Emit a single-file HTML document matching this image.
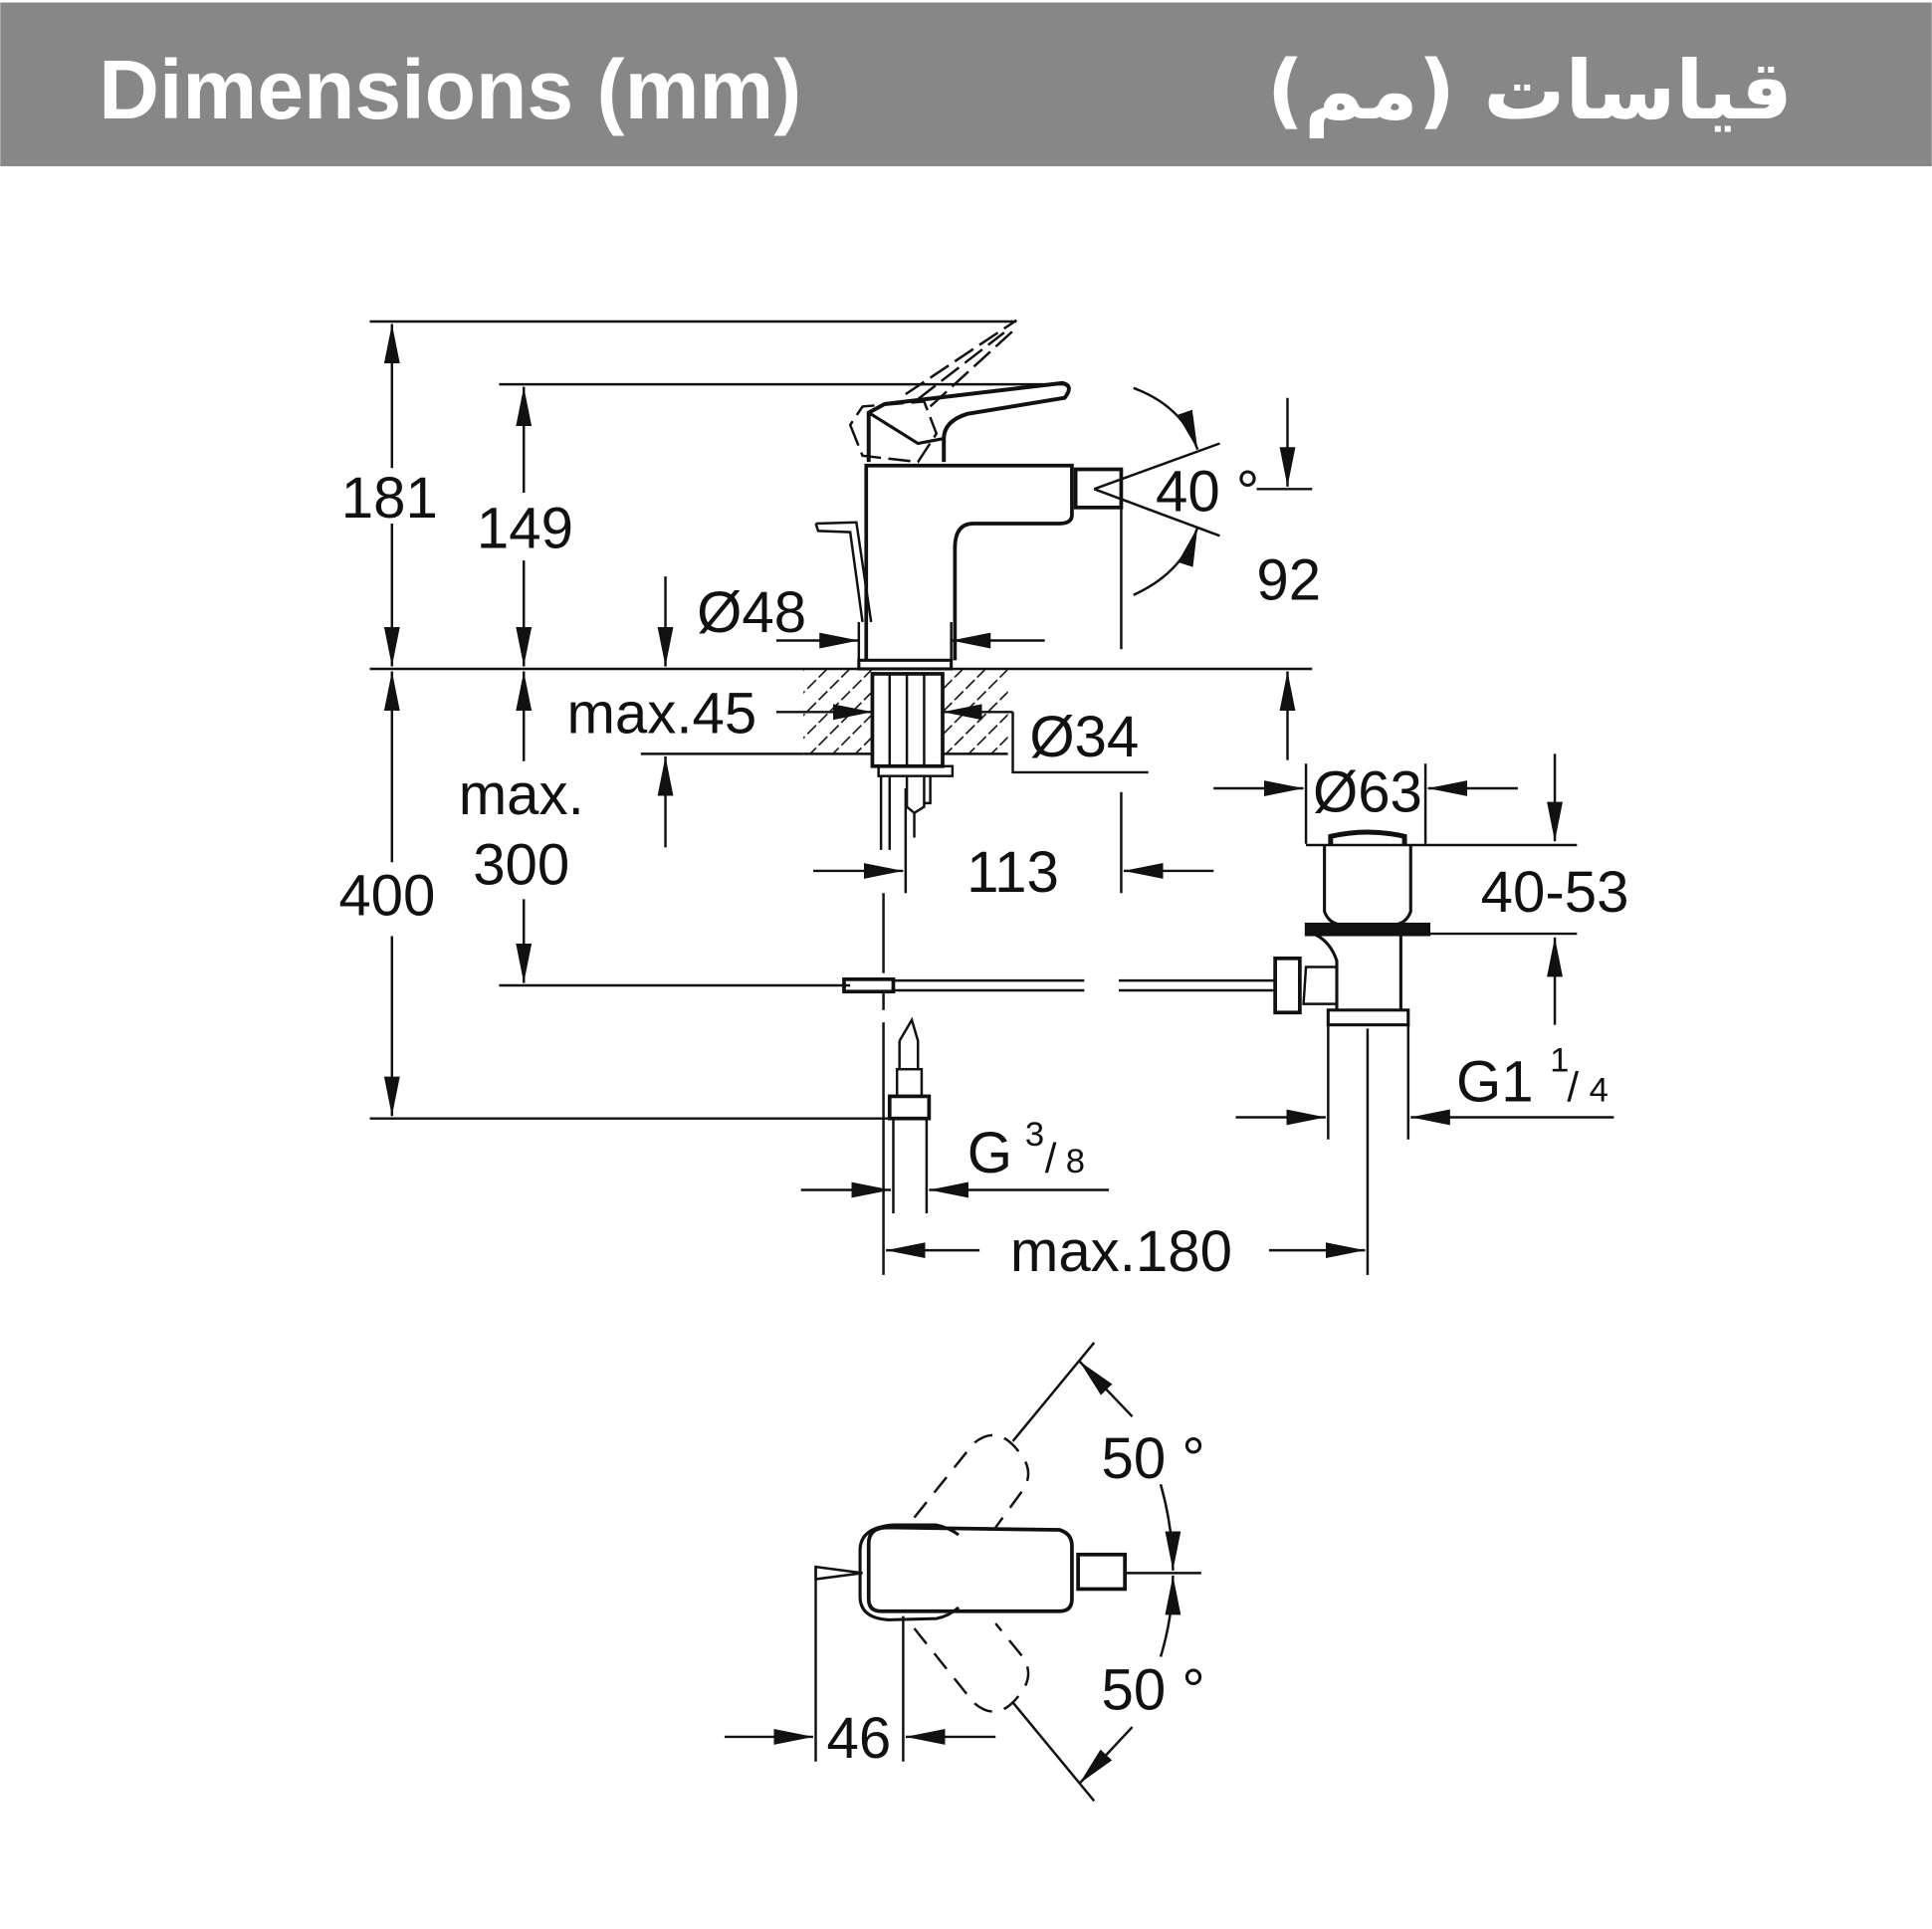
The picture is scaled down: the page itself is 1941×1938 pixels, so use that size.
<!DOCTYPE html>
<html><head><meta charset="utf-8"><style>
html,body{margin:0;padding:0;background:#fff;}
svg{display:block;}
text{font-family:"Liberation Sans",sans-serif;fill:#111;}
</style></head><body>
<svg width="1941" height="1938" viewBox="0 0 1568 1566" xmlns="http://www.w3.org/2000/svg">
<defs>
<marker id="b" viewBox="0 0 10 10" refX="10" refY="5" markerWidth="32" markerHeight="32" markerUnits="userSpaceOnUse" orient="auto"><path d="M0,3 L10,5 L0,7 z" fill="#111"/></marker>
<pattern id="h" width="13" height="13" patternUnits="userSpaceOnUse" patternTransform="rotate(45)"><line x1="0" y1="0" x2="0" y2="13" stroke="#111" stroke-width="2.6" stroke-dasharray="10 3"/></pattern>
</defs>
<rect x="0" y="2" width="1568" height="133" fill="#878787"/>
<text x="80" y="96" font-size="68" font-weight="bold" style="fill:#fff">Dimensions (mm)</text>
<text x="1455" y="96" font-size="66" font-weight="bold" text-anchor="end" style="fill:#fff;font-family:'DejaVu Sans',sans-serif">قياسات (مم)</text>

<g stroke="#111" stroke-width="2" fill="none">
<line x1="300" y1="261" x2="825" y2="261"/>
<line x1="405" y1="312" x2="865" y2="312"/>
<line x1="300" y1="543" x2="1065" y2="543"/>
<line x1="300" y1="908" x2="725" y2="908"/>
<line x1="405" y1="800" x2="690" y2="800"/>
<line x1="318" y1="380" x2="318" y2="263" marker-end="url(#b)"/>
<line x1="318" y1="425" x2="318" y2="541" marker-end="url(#b)"/>
<line x1="425" y1="400" x2="425" y2="314" marker-end="url(#b)"/>
<line x1="425" y1="455" x2="425" y2="541" marker-end="url(#b)"/>
<line x1="318" y1="700" x2="318" y2="545" marker-end="url(#b)"/>
<line x1="318" y1="760" x2="318" y2="906" marker-end="url(#b)"/>
<line x1="425" y1="618" x2="425" y2="545" marker-end="url(#b)"/>
<line x1="425" y1="730" x2="425" y2="798" marker-end="url(#b)"/>
<line x1="540" y1="468" x2="540" y2="541" marker-end="url(#b)"/>
<line x1="630" y1="520" x2="697" y2="520" marker-end="url(#b)"/>
<line x1="848" y1="520" x2="772" y2="520" marker-end="url(#b)"/>
<line x1="697" y1="505" x2="697" y2="537"/><line x1="772" y1="505" x2="772" y2="537"/>
<line x1="630" y1="578" x2="708" y2="578" marker-end="url(#b)"/>
<line x1="540" y1="688" x2="540" y2="614" marker-end="url(#b)"/>
<line x1="520" y1="612" x2="652" y2="612"/>
<line x1="822" y1="578" x2="765" y2="578" marker-end="url(#b)"/>
<polyline points="822,578 822,627 932,627"/>
<rect x="652" y="543" width="56" height="69" fill="url(#h)" stroke="none"/>
<rect x="765" y="543" width="53" height="69" fill="url(#h)" stroke="none"/>
<line x1="652" y1="612" x2="818" y2="612"/>
<rect x="708" y="547" width="57" height="75" fill="#fff" stroke-width="3"/>
<line x1="722" y1="547" x2="722" y2="622"/><line x1="736" y1="547" x2="736" y2="622"/><line x1="750" y1="547" x2="750" y2="622"/>
<rect x="713" y="622" width="60" height="8"/>
<line x1="715" y1="630" x2="715" y2="690"/><line x1="722" y1="630" x2="722" y2="690"/>
<path d="M736,630 L736,655 L742,660 L750,655 L750,630 M742,660 L742,680 M755,630 L755,652 L750,652"/>
<rect x="697" y="536" width="75" height="7" stroke-width="2.5"/>
<path d="M703,536 L703,378 L870,378 L870,418 Q870,425 860,425 L790,425 Q775,425 775,445 L775,536" stroke-width="3"/>
<rect x="873" y="381" width="37" height="31" stroke-width="3"/>
<path d="M705,375 L705,335 L718,328 L862,311 Q872,313 864,323 L785,336 Q766,342 766,356 L766,375" stroke-width="3.2"/>
<path d="M705,335 L745,360 L766,356" stroke-width="2.5"/>
<path d="M690,345 L700,370 L745,375 L760,352 L750,326 L700,330 Z M745,324 L815,270 M755,330 L825,266 M735,320 L825,260" stroke-dasharray="18 6"/>
<path d="M662,425 L664,431 L690,432 L700,505 M662,425 L695,424 L707,505"/>
<line x1="888" y1="397" x2="990" y2="360"/>
<line x1="888" y1="397" x2="990" y2="435"/>
<path d="M920,315 Q960,330 972,365" marker-end="url(#b)"/>
<path d="M920,483 Q960,465 972,428" marker-end="url(#b)"/>
<line x1="910" y1="412" x2="910" y2="527"/>
<line x1="1045" y1="323" x2="1045" y2="395" marker-end="url(#b)"/>
<line x1="1020" y1="397" x2="1065" y2="397"/>
<line x1="1045" y1="617" x2="1045" y2="545" marker-end="url(#b)"/>
<line x1="910" y1="643" x2="910" y2="725"/>
<line x1="985" y1="707" x2="912" y2="707" marker-end="url(#b)"/>
<line x1="660" y1="707" x2="733" y2="707" marker-end="url(#b)"/>
<line x1="735" y1="640" x2="735" y2="725"/>
<line x1="717" y1="725" x2="717" y2="790"/>
<rect x="685" y="795" width="40" height="10" stroke-width="3"/>
<line x1="717" y1="805" x2="717" y2="820"/>
<line x1="725" y1="796" x2="880" y2="796"/><line x1="725" y1="804" x2="880" y2="804"/>
<line x1="908" y1="796" x2="1035" y2="796"/><line x1="908" y1="804" x2="1035" y2="804"/>
<path d="M730,845 L740,828 L745,845 L745,868 M730,845 L730,868"/>
<rect x="728" y="868" width="20" height="22"/>
<rect x="722" y="890" width="32" height="18" stroke-width="3"/>
<line x1="725" y1="908" x2="725" y2="985"/><line x1="752" y1="908" x2="752" y2="985"/>
<line x1="717" y1="830" x2="717" y2="1035"/>
<line x1="650" y1="966" x2="723" y2="966" marker-end="url(#b)"/>
<line x1="900" y1="966" x2="754" y2="966" marker-end="url(#b)"/>
<line x1="1110" y1="835" x2="1110" y2="1035"/>
<line x1="795" y1="1015" x2="719" y2="1015" marker-end="url(#b)"/>
<line x1="1030" y1="1015" x2="1108" y2="1015" marker-end="url(#b)"/>
<line x1="1060" y1="620" x2="1060" y2="685"/><line x1="1157" y1="620" x2="1157" y2="685"/>
<line x1="985" y1="640" x2="1058" y2="640" marker-end="url(#b)"/>
<line x1="1232" y1="640" x2="1159" y2="640" marker-end="url(#b)"/>
<path d="M1080,686 L1080,679 Q1110,672 1140,679 L1140,686" stroke-width="4"/>
<line x1="1060" y1="686" x2="1280" y2="686"/>
<path d="M1075,686 L1075,740 Q1078,748 1085,750 M1145,686 L1145,740 Q1142,748 1135,750" stroke-width="2.5"/>
<rect x="1060" y="750" width="100" height="9" fill="#111"/>
<line x1="1160" y1="758" x2="1280" y2="758"/>
<path d="M1068,759 Q1080,765 1085,780 L1085,820 M1137,759 L1137,820" stroke-width="2.5"/>
<path d="M1085,785 L1060,785 L1058,815 L1085,815"/>
<rect x="1035" y="778" width="20" height="44" stroke-width="3"/>
<rect x="1078" y="820" width="65" height="12" stroke-width="2.5"/>
<line x1="1078" y1="832" x2="1078" y2="925"/><line x1="1143" y1="832" x2="1143" y2="925"/>
<line x1="1262" y1="612" x2="1262" y2="683" marker-end="url(#b)"/>
<line x1="1262" y1="832" x2="1262" y2="761" marker-end="url(#b)"/>
<line x1="1003" y1="907" x2="1076" y2="907" marker-end="url(#b)"/>
<line x1="1310" y1="907" x2="1145" y2="907" marker-end="url(#b)"/>

<path d="M720,1240 L860,1242 Q870,1245 870,1255 L870,1298 Q870,1308 860,1308 L715,1308 Q705,1308 705,1298 L705,1253 Q705,1240 720,1240 Z" stroke-width="3"/>
<path d="M725,1238 Q697,1240 698,1260 L698,1296 Q698,1314 722,1315 L760,1314 Q770,1312 778,1305 M725,1238 L760,1238 Q770,1240 778,1246" stroke-width="2.5"/>
<rect x="875" y="1262" width="38" height="28" stroke-width="3"/>
<line x1="913" y1="1277" x2="975" y2="1277"/>
<path d="M662,1272 L700,1277 L662,1282 Z" stroke-width="2"/>
<line x1="662" y1="1272" x2="662" y2="1430"/>
<line x1="733" y1="1312" x2="733" y2="1430"/>
<line x1="588" y1="1410" x2="660" y2="1410" marker-end="url(#b)"/>
<line x1="808" y1="1410" x2="735" y2="1410" marker-end="url(#b)"/>
<path d="M742,1232 L790,1172 Q810,1155 828,1180 Q840,1195 830,1210 L808,1240" stroke-dasharray="16 10"/>
<path d="M742,1322 L790,1382 Q810,1400 828,1375 Q840,1360 830,1345 L808,1318" stroke-dasharray="16 10"/>
<line x1="822" y1="1170" x2="888" y2="1090"/>
<line x1="822" y1="1382" x2="888" y2="1462"/>
<line x1="919" y1="1150" x2="876" y2="1105" marker-end="url(#b)"/>
<line x1="919" y1="1402" x2="876" y2="1448" marker-end="url(#b)"/>
<path d="M942,1205 Q952,1240 952,1275" marker-end="url(#b)"/>
<path d="M942,1345 Q952,1312 952,1279" marker-end="url(#b)"/>
</g>

<g font-size="47" text-anchor="middle">
<text x="316" y="420">181</text>
<text x="426" y="445">149</text>
<text x="314" y="743">400</text>
<text x="423" y="661">max.</text>
<text x="423" y="718">300</text>
<text x="610" y="513">Ø48</text>
<text x="537" y="595">max.45</text>
<text x="880" y="614">Ø34</text>
<text x="980" y="415">40 °</text>
<text x="1046" y="487">92</text>
<text x="822" y="724">113</text>
<text x="1110" y="659">Ø63</text>
<text x="1262" y="740">40-53</text>
<text x="910" y="1032">max.180</text>
<text x="697" y="1427">46</text>
<text x="936" y="1200">50 °</text>
<text x="936" y="1388">50 °</text>
</g>
<g font-size="47">
<text x="785" y="952">G</text><text x="832" y="930" font-size="28">3</text><text x="848" y="952" font-size="34">/</text><text x="865" y="952" font-size="28">8</text>
<text x="1182" y="894">G1</text><text x="1258" y="870" font-size="28">1</text><text x="1272" y="894" font-size="34">/</text><text x="1290" y="894" font-size="28">4</text>
</g>
</svg>
</body></html>
